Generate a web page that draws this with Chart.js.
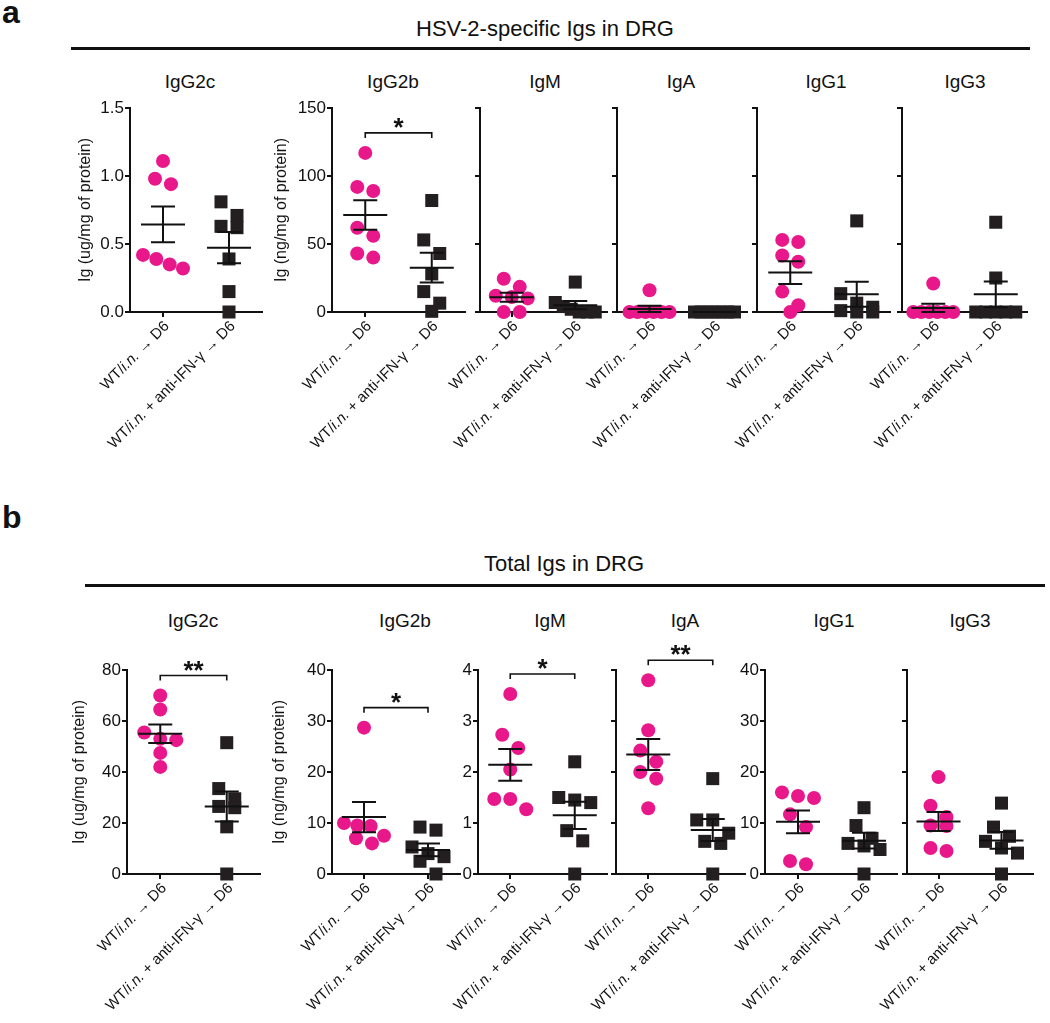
<!DOCTYPE html>
<html>
<head>
<meta charset="utf-8">
<script src="https://cdn.jsdelivr.net/npm/chart.js@4.4.0/dist/chart.umd.min.js"></script>
<style>
  body { margin: 0; background: #fff; }
  #fig { position: relative; width: 1050px; height: 1023px; overflow: hidden; }
  .txt { position: absolute; white-space: nowrap; color: #111; line-height: 1; font-family: "Liberation Sans", Arial, Helvetica, sans-serif; }
  .rule { position: absolute; background: #111; height: 3px; }
  canvas { position: absolute; }
</style>
</head>
<body>
<div id="fig"></div>
<script>
var PINK = '#e8178a';
var DARK = '#231f20';
var INK = '#111';
var FONT = '"Liberation Sans", Arial, Helvetica, sans-serif';

var groups = ['WT/i.n. → D6', 'WT/i.n. + anti-IFN-γ → D6'];
var isotypes = ['IgG2c', 'IgG2b', 'IgM', 'IgA', 'IgG1', 'IgG3'];

// a - HSV-2-specific Igs in DRG
var hsvIgG2cWT   = [1.11, 0.98, 0.94, 0.42, 0.39, 0.35, 0.32];
var hsvIgG2cAnti = [0.81, 0.71, 0.63, 0.62, 0.39, 0.15, 0.0];
var hsvIgG2bWT   = [117, 92, 89, 62, 56, 43, 40];
var hsvIgG2bAnti = [82, 53, 43, 28, 15, 6.5, 0.5];
var hsvIgMWT     = [24.5, 18.5, 12, 11, 10, 0, 0];
var hsvIgMAnti   = [22, 7, 4, 2, 0, 0, 0];
var hsvIgAWT     = [16, 0, 0, 0, 0, 0, 0];
var hsvIgAAnti   = [0, 0, 0, 0, 0, 0, 0];
var hsvIgG1WT    = [53, 51.5, 41.5, 37, 15, 5, 0];
var hsvIgG1Anti  = [67, 13.5, 6.5, 3.5, 1, 0, 0];
var hsvIgG3WT    = [21, 0, 0, 0, 0, 0, 0];
var hsvIgG3Anti  = [66, 25, 0, 0, 0, 0, 0];
var hsvStars     = ['', '*', '', '', '', ''];

// b - Total Igs in DRG
var totIgG2cWT   = [70, 64.5, 55.5, 53, 52.5, 47.5, 42];
var totIgG2cAnti = [51.5, 33.5, 29.5, 26.5, 26, 18.5, 0];
var totIgG2bWT   = [28.7, 10, 9.5, 9.4, 7.5, 7, 6];
var totIgG2bAnti = [9.2, 8.6, 5.3, 4, 3.4, 2.5, 0];
var totIgMWT     = [3.53, 2.73, 2.47, 2.05, 1.47, 1.47, 1.27];
var totIgMAnti   = [2.2, 1.5, 1.45, 1.4, 0.85, 0.65, 0];
var totIgAWT     = [3.8, 2.82, 2.42, 2.2, 2.0, 1.87, 1.29];
var totIgAAnti   = [1.87, 1.06, 1.06, 0.8, 0.64, 0.6, 0];
var totIgG1WT    = [16, 15.3, 14.9, 11.7, 9.2, 2.55, 1.9];
var totIgG1Anti  = [13, 9.5, 7, 6, 5.5, 4.8, 0];
var totIgG3WT    = [19, 13.4, 11.2, 9.5, 9.4, 5.1, 4.5];
var totIgG3Anti  = [13.9, 9.2, 7.4, 6.4, 5.1, 4.1, 0];
var totStars     = ['**', '*', '*', '**', '', ''];

var fig = document.getElementById('fig');

function txt(str, x, y, size, opts) {
  opts = opts || {};
  var d = document.createElement('div');
  d.className = 'txt';
  d.textContent = str;
  d.style.fontSize = size + 'px';
  if (opts.bold) d.style.fontWeight = 'bold';
  d.style.left = x + 'px';
  d.style.top = y + 'px';
  if (!opts.left) d.style.transform = 'translate(-50%, -50%)';
  fig.appendChild(d);
}
function rule(x0, x1, y) {
  var d = document.createElement('div');
  d.className = 'rule';
  d.style.left = x0 + 'px';
  d.style.width = (x1 - x0) + 'px';
  d.style.top = (y - 1.5) + 'px';
  fig.appendChild(d);
}

function meanSem(v) {
  var n = v.length;
  var m = v.reduce(function (a, b) { return a + b; }, 0) / n;
  var ss = v.reduce(function (a, b) { return a + (b - m) * (b - m); }, 0);
  return [m, Math.sqrt(ss / (n - 1)) / Math.sqrt(n)];
}

// column scatter: points closer than ~14px vertically share a row and spread sideways
function swarm(vals, cx, pxX, pxY) {
  var sorted = vals.slice().sort(function (a, b) { return b - a; });
  var out = [], row = [];
  function flush() {
    var n = row.length;
    var sp = n > 1 ? Math.min(16, 40 / (n - 1)) : 0;
    row.forEach(function (v, k) {
      out.push({ x: cx + (k - (n - 1) / 2) * sp / pxX, y: v });
    });
    row = [];
  }
  sorted.forEach(function (v) {
    if (row.length && (row[0] - v) * pxY > 14) flush();
    row.push(v);
  });
  flush();
  return out;
}

function makePanel(p, top, bottom) {
  var L = 95, T = 45, R = 12, B = 150;
  var plotW = p.x1 - p.x0, plotH = bottom - top;
  var W = plotW + L + R, H = plotH + T + B;
  var cv = document.createElement('canvas');
  cv.width = W; cv.height = H;
  cv.style.width = W + 'px'; cv.style.height = H + 'px';
  cv.style.left = (p.x0 - L) + 'px';
  cv.style.top = (top - T) + 'px';
  fig.appendChild(cv);

  var pxX = plotW / 2, pxY = plotH / p.max;

  var extras = {
    id: 'extras',
    afterDatasetsDraw: function (chart) {
      var ctx = chart.ctx, xs = chart.scales.x, ys = chart.scales.y, ca = chart.chartArea;
      ctx.save();
      ctx.strokeStyle = INK;
      ctx.fillStyle = INK;
      ctx.lineWidth = 2;
      // mean +/- SEM
      [p.wt, p.anti].forEach(function (vals, g) {
        var st = meanSem(vals);
        var cx = xs.getPixelForValue(g + 1);
        var ym = ys.getPixelForValue(st[0]);
        var yh = ys.getPixelForValue(st[0] + st[1]);
        var yl = ys.getPixelForValue(st[0] - st[1]);
        ctx.beginPath();
        ctx.moveTo(cx - 22, ym); ctx.lineTo(cx + 22, ym);
        ctx.moveTo(cx - 12, yh); ctx.lineTo(cx + 12, yh);
        ctx.moveTo(cx - 12, yl); ctx.lineTo(cx + 12, yl);
        ctx.moveTo(cx, yh); ctx.lineTo(cx, yl);
        ctx.stroke();
      });
      // significance bracket
      if (p.star) {
        var hi = Math.min(ys.getPixelForValue(Math.max.apply(null, p.wt)),
                          ys.getPixelForValue(Math.max.apply(null, p.anti))) - 20;
        var xa = xs.getPixelForValue(1), xb = xs.getPixelForValue(2);
        ctx.lineWidth = 1.6;
        ctx.beginPath();
        ctx.moveTo(xa, hi + 5); ctx.lineTo(xa, hi); ctx.lineTo(xb, hi); ctx.lineTo(xb, hi + 5);
        ctx.stroke();
        ctx.font = 'bold 26px ' + FONT;
        ctx.textAlign = 'center';
        ctx.textBaseline = 'alphabetic';
        ctx.fillText(p.star, (xa + xb) / 2, hi + 3);
      }
      // rotated group labels, "i.n." in italics
      ctx.textBaseline = 'middle';
      ctx.textAlign = 'left';
      groups.forEach(function (lab, g) {
        var parts = lab.split('i.n.');
        var segs = [[parts[0], ''], ['i.n.', 'italic '], [parts[1], '']];
        var total = 0;
        segs.forEach(function (s) { ctx.font = s[1] + '15px ' + FONT; s.push(ctx.measureText(s[0]).width); total += s[2]; });
        ctx.save();
        ctx.translate(xs.getPixelForValue(g + 1) + 4, ca.bottom + 12);
        ctx.rotate(-Math.PI / 4);
        var x = -total;
        segs.forEach(function (s) { ctx.font = s[1] + '15px ' + FONT; ctx.fillText(s[0], x, 0); x += s[2]; });
        ctx.restore();
      });
      // y title
      if (p.ytitle) {
        ctx.save();
        ctx.translate(ca.left - p.tOff, (ca.top + ca.bottom) / 2);
        ctx.rotate(-Math.PI / 2);
        ctx.textAlign = 'center';
        ctx.font = '16px ' + FONT;
        ctx.fillText(p.ytitle, 0, 0);
        ctx.restore();
      }
      ctx.restore();
    }
  };

  new Chart(cv, {
    type: 'scatter',
    data: {
      datasets: [
        { data: swarm(p.wt, 1, pxX, pxY), pointStyle: 'circle', pointRadius: 7,
          backgroundColor: PINK, borderWidth: 0, clip: false },
        { data: swarm(p.anti, 2, pxX, pxY), pointStyle: 'rect', pointRadius: 9.2,
          backgroundColor: DARK, borderWidth: 0, clip: false }
      ]
    },
    options: {
      responsive: false,
      animation: false,
      devicePixelRatio: 1,
      layout: { padding: { top: T, right: R, left: 0, bottom: 0 } },
      plugins: { legend: { display: false }, tooltip: { enabled: false } },
      elements: { point: { hoverRadius: 0 } },
      scales: {
        x: {
          type: 'linear', min: 0.5, max: 2.5,
          afterBuildTicks: function (s) { s.ticks = [{ value: 1 }, { value: 2 }]; },
          afterFit: function (s) { s.height = B; },
          ticks: { display: false },
          grid: { drawOnChartArea: false, drawTicks: true, tickLength: 5, lineWidth: 2, color: INK },
          border: { display: true, color: INK, width: 2 }
        },
        y: {
          min: 0, max: p.max,
          afterFit: function (s) { s.width = L; },
          ticks: {
            stepSize: p.step, color: INK, padding: 1,
            font: { size: 17, family: FONT },
            callback: function (v) { return p.noLabels ? '' : v.toFixed(p.dec); }
          },
          grid: { drawOnChartArea: false, drawTicks: true, tickLength: 5, lineWidth: 2, color: INK },
          border: { display: true, color: INK, width: 2 }
        }
      }
    },
    plugins: [extras]
  });
}

// layout
var rowA = { top: 108, bottom: 312, panels: [
  { wt: hsvIgG2cWT, anti: hsvIgG2cAnti, max: 1.5, step: 0.5, dec: 1, x0: 130, x1: 262, ytitle: 'Ig (ug/mg of protein)', tOff: 44 },
  { wt: hsvIgG2bWT, anti: hsvIgG2bAnti, max: 150, step: 50, dec: 0, x0: 332, x1: 465, ytitle: 'Ig (ng/mg of protein)', tOff: 50 },
  { wt: hsvIgMWT, anti: hsvIgMAnti, max: 150, step: 50, dec: 0, x0: 480, x1: 607, noLabels: true },
  { wt: hsvIgAWT, anti: hsvIgAAnti, max: 150, step: 50, dec: 0, x0: 617, x1: 747, noLabels: true },
  { wt: hsvIgG1WT, anti: hsvIgG1Anti, max: 150, step: 50, dec: 0, x0: 757, x1: 890, noLabels: true },
  { wt: hsvIgG3WT, anti: hsvIgG3Anti, max: 150, step: 50, dec: 0, x0: 902, x1: 1027, noLabels: true }
]};
var rowB = { top: 670, bottom: 874, panels: [
  { wt: totIgG2cWT, anti: totIgG2cAnti, max: 80, step: 20, dec: 0, x0: 127, x1: 260, ytitle: 'Ig (ug/mg of protein)', tOff: 47 },
  { wt: totIgG2bWT, anti: totIgG2bAnti, max: 40, step: 10, dec: 0, x0: 332, x1: 460, ytitle: 'Ig (ng/mg of protein)', tOff: 52 },
  { wt: totIgMWT, anti: totIgMAnti, max: 4, step: 1, dec: 0, x0: 478, x1: 607 },
  { wt: totIgAWT, anti: totIgAAnti, max: 4, step: 1, dec: 0, x0: 616, x1: 745, noLabels: true },
  { wt: totIgG1WT, anti: totIgG1Anti, max: 40, step: 10, dec: 0, x0: 765, x1: 897 },
  { wt: totIgG3WT, anti: totIgG3Anti, max: 40, step: 10, dec: 0, x0: 907, x1: 1033, noLabels: true }
]};
rowA.panels.forEach(function (p, i) { p.star = hsvStars[i]; });
rowB.panels.forEach(function (p, i) { p.star = totStars[i]; });

// headings
txt('a', 2, -4, 32, { bold: true, left: true });
txt('HSV-2-specific Igs in DRG', 545, 29, 22);
rule(71, 1030, 48);
var titleXA = [190, 393, 545, 681, 826, 965];
isotypes.forEach(function (n, i) { txt(n, titleXA[i], 81, 19); });

txt('b', 2, 501, 32, { bold: true, left: true });
txt('Total Igs in DRG', 564, 564, 22);
rule(85, 1045, 585);
var titleXB = [193, 405, 550, 685, 834, 970];
isotypes.forEach(function (n, i) { txt(n, titleXB[i], 620, 19); });

rowA.panels.forEach(function (p) { makePanel(p, rowA.top, rowA.bottom); });
rowB.panels.forEach(function (p) { makePanel(p, rowB.top, rowB.bottom); });
</script>
</body>
</html>
